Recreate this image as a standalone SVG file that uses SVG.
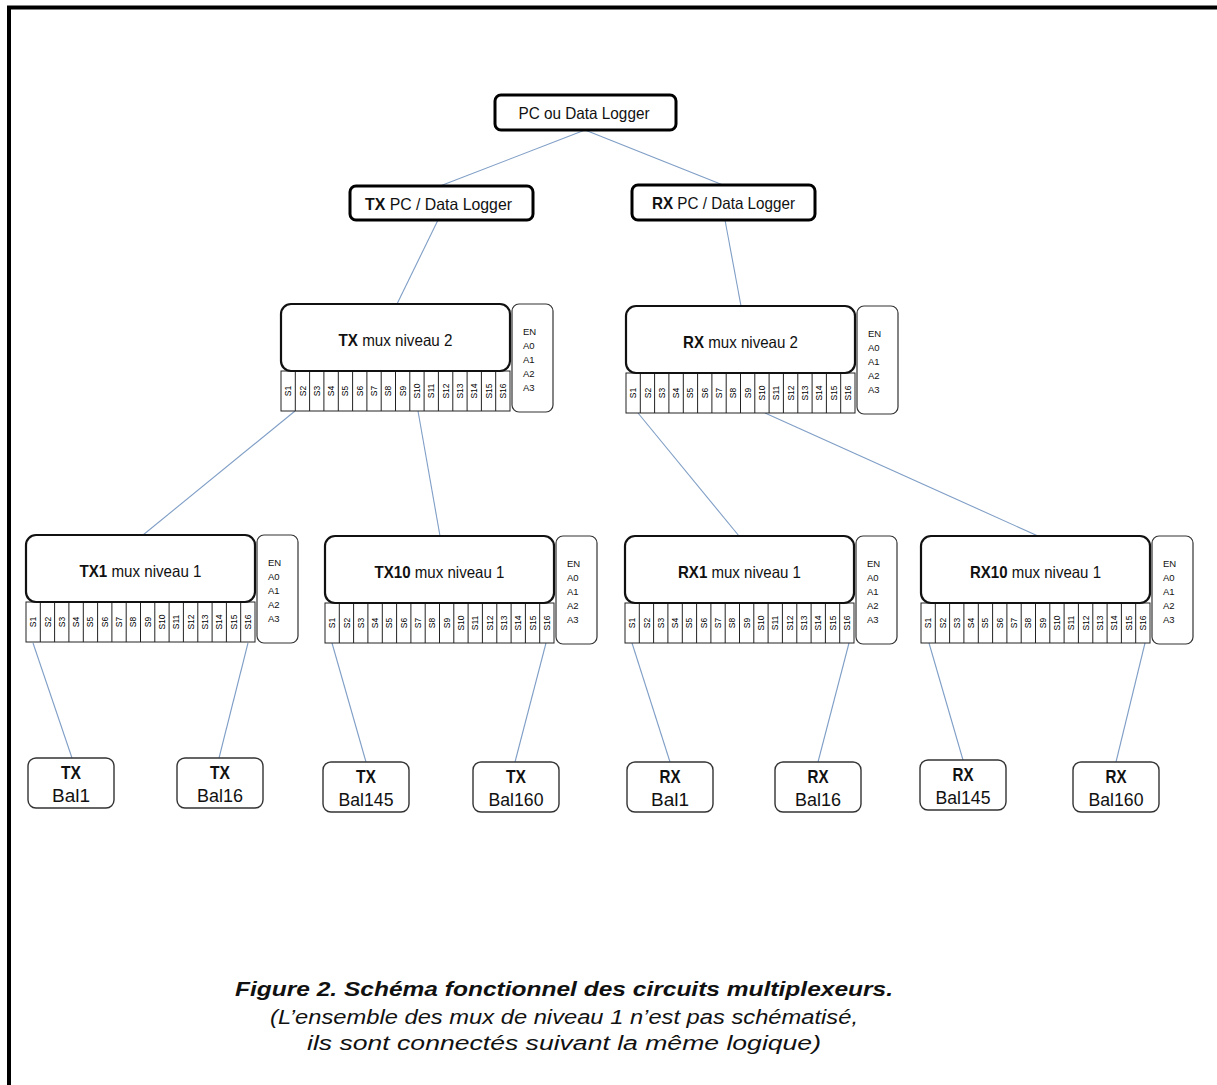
<svg xmlns="http://www.w3.org/2000/svg" width="1217" height="1085" viewBox="0 0 1217 1085">
<style>
text{font-family:"Liberation Sans Narrow","Liberation Sans",Arial,sans-serif;fill:#111}
.conn line{stroke:#7f9ec6;stroke-width:1.1}
.top{fill:#fff;stroke:#000;stroke-width:3}
.main{fill:#fff;stroke:#111;stroke-width:2.2}
.strip{fill:#fff;stroke:#222;stroke-width:1}
.side{fill:#fff;stroke:#333;stroke-width:1.2}
.bal{fill:#fff;stroke:#333;stroke-width:1.4}
.t15{font-size:16.5px}
.t16{font-size:17.5px}
.b{font-weight:bold}
.pin{font-size:9.5px}
.sl{font-size:8.5px}
.sl text{fill:#000}
.cap1{font-size:21px;font-weight:bold;font-style:italic}
.cap2{font-size:19.5px;font-style:italic}
</style>
<path d="M9,1085 V7.5 H1217" fill="none" stroke="#000" stroke-width="4"/>

<g id="connectors" class="conn">
<line x1="585" y1="130" x2="440" y2="186"/>
<line x1="585" y1="130" x2="723" y2="185"/>
<line x1="438" y1="220" x2="397" y2="304"/>
<line x1="725" y1="220" x2="741" y2="306"/>
<line x1="295" y1="411" x2="143" y2="535"/>
<line x1="418" y1="411" x2="440" y2="536"/>
<line x1="638" y1="413" x2="739" y2="536"/>
<line x1="765" y1="413" x2="1038" y2="536"/>
<line x1="33" y1="643" x2="72" y2="758"/>
<line x1="248" y1="643" x2="219" y2="758"/>
<line x1="332" y1="643" x2="366" y2="762"/>
<line x1="546" y1="643" x2="515" y2="762"/>
<line x1="632" y1="643" x2="670" y2="762"/>
<line x1="849" y1="643" x2="818" y2="762"/>
<line x1="929" y1="643" x2="963" y2="760"/>
<line x1="1145" y1="643" x2="1116" y2="762"/>
</g>

<g id="pc">
<rect class="top" x="495" y="95" width="181" height="35" rx="6"/>
<text class="t15" x="584" y="118.5" text-anchor="middle" textLength="131" lengthAdjust="spacingAndGlyphs">PC ou Data Logger</text>
</g>
<g id="tx-pc">
<rect class="top" x="350" y="186" width="183" height="34" rx="6"/>
<text class="t15" x="438.5" y="209.5" text-anchor="middle" textLength="147" lengthAdjust="spacingAndGlyphs"><tspan class="b">TX</tspan> PC / Data Logger</text>
</g>
<g id="rx-pc">
<rect class="top" x="632" y="185" width="183" height="35" rx="6"/>
<text class="t15" x="723.5" y="208.5" text-anchor="middle" textLength="143" lengthAdjust="spacingAndGlyphs"><tspan class="b">RX</tspan> PC / Data Logger</text>
</g>

<g id="tx-mux2" transform="translate(281,304)">
<rect class="strip" x="0" y="67" width="229" height="40"/>
<path class="strip" d="M14.3,67v40M28.6,67v40M42.9,67v40M57.3,67v40M71.6,67v40M85.9,67v40M100.2,67v40M114.5,67v40M128.8,67v40M143.1,67v40M157.4,67v40M171.8,67v40M186.1,67v40M200.4,67v40M214.7,67v40"/>
<rect class="main" x="0" y="0" width="229" height="67" rx="10"/>
<rect class="side" x="231" y="0" width="41" height="108" rx="7"/>
<text class="t15" x="114.5" y="42" text-anchor="middle" textLength="114" lengthAdjust="spacingAndGlyphs"><tspan class="b">TX</tspan> mux niveau 2</text>
<g class="pin"><text x="242" y="30.5">EN</text><text x="242" y="44.5">A0</text><text x="242" y="58.5">A1</text><text x="242" y="72.5">A2</text><text x="242" y="86.5">A3</text></g>
<g class="sl" text-anchor="middle">
<text transform="translate(7.2,87) rotate(-90)" dy="3">S1</text><text transform="translate(21.5,87) rotate(-90)" dy="3">S2</text><text transform="translate(35.8,87) rotate(-90)" dy="3">S3</text><text transform="translate(50.1,87) rotate(-90)" dy="3">S4</text><text transform="translate(64.4,87) rotate(-90)" dy="3">S5</text><text transform="translate(78.7,87) rotate(-90)" dy="3">S6</text><text transform="translate(93,87) rotate(-90)" dy="3">S7</text><text transform="translate(107.3,87) rotate(-90)" dy="3">S8</text><text transform="translate(121.6,87) rotate(-90)" dy="3">S9</text><text transform="translate(135.9,87) rotate(-90)" dy="3">S10</text><text transform="translate(150.3,87) rotate(-90)" dy="3">S11</text><text transform="translate(164.6,87) rotate(-90)" dy="3">S12</text><text transform="translate(178.9,87) rotate(-90)" dy="3">S13</text><text transform="translate(193.2,87) rotate(-90)" dy="3">S14</text><text transform="translate(207.5,87) rotate(-90)" dy="3">S15</text><text transform="translate(221.8,87) rotate(-90)" dy="3">S16</text>
</g>
</g>

<g id="rx-mux2" transform="translate(626,306)">
<rect class="strip" x="0" y="67" width="229" height="40"/>
<path class="strip" d="M14.3,67v40M28.6,67v40M42.9,67v40M57.3,67v40M71.6,67v40M85.9,67v40M100.2,67v40M114.5,67v40M128.8,67v40M143.1,67v40M157.4,67v40M171.8,67v40M186.1,67v40M200.4,67v40M214.7,67v40"/>
<rect class="main" x="0" y="0" width="229" height="67" rx="10"/>
<rect class="side" x="231" y="0" width="41" height="108" rx="7"/>
<text class="t15" x="114.5" y="42" text-anchor="middle" textLength="115" lengthAdjust="spacingAndGlyphs"><tspan class="b">RX</tspan> mux niveau 2</text>
<g class="pin"><text x="242" y="30.5">EN</text><text x="242" y="44.5">A0</text><text x="242" y="58.5">A1</text><text x="242" y="72.5">A2</text><text x="242" y="86.5">A3</text></g>
<g class="sl" text-anchor="middle">
<text transform="translate(7.2,87) rotate(-90)" dy="3">S1</text><text transform="translate(21.5,87) rotate(-90)" dy="3">S2</text><text transform="translate(35.8,87) rotate(-90)" dy="3">S3</text><text transform="translate(50.1,87) rotate(-90)" dy="3">S4</text><text transform="translate(64.4,87) rotate(-90)" dy="3">S5</text><text transform="translate(78.7,87) rotate(-90)" dy="3">S6</text><text transform="translate(93,87) rotate(-90)" dy="3">S7</text><text transform="translate(107.3,87) rotate(-90)" dy="3">S8</text><text transform="translate(121.6,87) rotate(-90)" dy="3">S9</text><text transform="translate(135.9,87) rotate(-90)" dy="3">S10</text><text transform="translate(150.3,87) rotate(-90)" dy="3">S11</text><text transform="translate(164.6,87) rotate(-90)" dy="3">S12</text><text transform="translate(178.9,87) rotate(-90)" dy="3">S13</text><text transform="translate(193.2,87) rotate(-90)" dy="3">S14</text><text transform="translate(207.5,87) rotate(-90)" dy="3">S15</text><text transform="translate(221.8,87) rotate(-90)" dy="3">S16</text>
</g>
</g>

<g id="tx1-mux1" transform="translate(26,535)">
<rect class="strip" x="0" y="67" width="229" height="40"/>
<path class="strip" d="M14.3,67v40M28.6,67v40M42.9,67v40M57.3,67v40M71.6,67v40M85.9,67v40M100.2,67v40M114.5,67v40M128.8,67v40M143.1,67v40M157.4,67v40M171.8,67v40M186.1,67v40M200.4,67v40M214.7,67v40"/>
<rect class="main" x="0" y="0" width="229" height="67" rx="10"/>
<rect class="side" x="231" y="0" width="41" height="108" rx="7"/>
<text class="t15" x="114.5" y="42" text-anchor="middle" textLength="122" lengthAdjust="spacingAndGlyphs"><tspan class="b">TX1</tspan> mux niveau 1</text>
<g class="pin"><text x="242" y="30.5">EN</text><text x="242" y="44.5">A0</text><text x="242" y="58.5">A1</text><text x="242" y="72.5">A2</text><text x="242" y="86.5">A3</text></g>
<g class="sl" text-anchor="middle">
<text transform="translate(7.2,87) rotate(-90)" dy="3">S1</text><text transform="translate(21.5,87) rotate(-90)" dy="3">S2</text><text transform="translate(35.8,87) rotate(-90)" dy="3">S3</text><text transform="translate(50.1,87) rotate(-90)" dy="3">S4</text><text transform="translate(64.4,87) rotate(-90)" dy="3">S5</text><text transform="translate(78.7,87) rotate(-90)" dy="3">S6</text><text transform="translate(93,87) rotate(-90)" dy="3">S7</text><text transform="translate(107.3,87) rotate(-90)" dy="3">S8</text><text transform="translate(121.6,87) rotate(-90)" dy="3">S9</text><text transform="translate(135.9,87) rotate(-90)" dy="3">S10</text><text transform="translate(150.3,87) rotate(-90)" dy="3">S11</text><text transform="translate(164.6,87) rotate(-90)" dy="3">S12</text><text transform="translate(178.9,87) rotate(-90)" dy="3">S13</text><text transform="translate(193.2,87) rotate(-90)" dy="3">S14</text><text transform="translate(207.5,87) rotate(-90)" dy="3">S15</text><text transform="translate(221.8,87) rotate(-90)" dy="3">S16</text>
</g>
</g>

<g id="tx10-mux1" transform="translate(325,536)">
<rect class="strip" x="0" y="67" width="229" height="40"/>
<path class="strip" d="M14.3,67v40M28.6,67v40M42.9,67v40M57.3,67v40M71.6,67v40M85.9,67v40M100.2,67v40M114.5,67v40M128.8,67v40M143.1,67v40M157.4,67v40M171.8,67v40M186.1,67v40M200.4,67v40M214.7,67v40"/>
<rect class="main" x="0" y="0" width="229" height="67" rx="10"/>
<rect class="side" x="231" y="0" width="41" height="108" rx="7"/>
<text class="t15" x="114.5" y="42" text-anchor="middle" textLength="130" lengthAdjust="spacingAndGlyphs"><tspan class="b">TX10</tspan> mux niveau 1</text>
<g class="pin"><text x="242" y="30.5">EN</text><text x="242" y="44.5">A0</text><text x="242" y="58.5">A1</text><text x="242" y="72.5">A2</text><text x="242" y="86.5">A3</text></g>
<g class="sl" text-anchor="middle">
<text transform="translate(7.2,87) rotate(-90)" dy="3">S1</text><text transform="translate(21.5,87) rotate(-90)" dy="3">S2</text><text transform="translate(35.8,87) rotate(-90)" dy="3">S3</text><text transform="translate(50.1,87) rotate(-90)" dy="3">S4</text><text transform="translate(64.4,87) rotate(-90)" dy="3">S5</text><text transform="translate(78.7,87) rotate(-90)" dy="3">S6</text><text transform="translate(93,87) rotate(-90)" dy="3">S7</text><text transform="translate(107.3,87) rotate(-90)" dy="3">S8</text><text transform="translate(121.6,87) rotate(-90)" dy="3">S9</text><text transform="translate(135.9,87) rotate(-90)" dy="3">S10</text><text transform="translate(150.3,87) rotate(-90)" dy="3">S11</text><text transform="translate(164.6,87) rotate(-90)" dy="3">S12</text><text transform="translate(178.9,87) rotate(-90)" dy="3">S13</text><text transform="translate(193.2,87) rotate(-90)" dy="3">S14</text><text transform="translate(207.5,87) rotate(-90)" dy="3">S15</text><text transform="translate(221.8,87) rotate(-90)" dy="3">S16</text>
</g>
</g>

<g id="rx1-mux1" transform="translate(625,536)">
<rect class="strip" x="0" y="67" width="229" height="40"/>
<path class="strip" d="M14.3,67v40M28.6,67v40M42.9,67v40M57.3,67v40M71.6,67v40M85.9,67v40M100.2,67v40M114.5,67v40M128.8,67v40M143.1,67v40M157.4,67v40M171.8,67v40M186.1,67v40M200.4,67v40M214.7,67v40"/>
<rect class="main" x="0" y="0" width="229" height="67" rx="10"/>
<rect class="side" x="231" y="0" width="41" height="108" rx="7"/>
<text class="t15" x="114.5" y="42" text-anchor="middle" textLength="123" lengthAdjust="spacingAndGlyphs"><tspan class="b">RX1</tspan> mux niveau 1</text>
<g class="pin"><text x="242" y="30.5">EN</text><text x="242" y="44.5">A0</text><text x="242" y="58.5">A1</text><text x="242" y="72.5">A2</text><text x="242" y="86.5">A3</text></g>
<g class="sl" text-anchor="middle">
<text transform="translate(7.2,87) rotate(-90)" dy="3">S1</text><text transform="translate(21.5,87) rotate(-90)" dy="3">S2</text><text transform="translate(35.8,87) rotate(-90)" dy="3">S3</text><text transform="translate(50.1,87) rotate(-90)" dy="3">S4</text><text transform="translate(64.4,87) rotate(-90)" dy="3">S5</text><text transform="translate(78.7,87) rotate(-90)" dy="3">S6</text><text transform="translate(93,87) rotate(-90)" dy="3">S7</text><text transform="translate(107.3,87) rotate(-90)" dy="3">S8</text><text transform="translate(121.6,87) rotate(-90)" dy="3">S9</text><text transform="translate(135.9,87) rotate(-90)" dy="3">S10</text><text transform="translate(150.3,87) rotate(-90)" dy="3">S11</text><text transform="translate(164.6,87) rotate(-90)" dy="3">S12</text><text transform="translate(178.9,87) rotate(-90)" dy="3">S13</text><text transform="translate(193.2,87) rotate(-90)" dy="3">S14</text><text transform="translate(207.5,87) rotate(-90)" dy="3">S15</text><text transform="translate(221.8,87) rotate(-90)" dy="3">S16</text>
</g>
</g>

<g id="rx10-mux1" transform="translate(921,536)">
<rect class="strip" x="0" y="67" width="229" height="40"/>
<path class="strip" d="M14.3,67v40M28.6,67v40M42.9,67v40M57.3,67v40M71.6,67v40M85.9,67v40M100.2,67v40M114.5,67v40M128.8,67v40M143.1,67v40M157.4,67v40M171.8,67v40M186.1,67v40M200.4,67v40M214.7,67v40"/>
<rect class="main" x="0" y="0" width="229" height="67" rx="10"/>
<rect class="side" x="231" y="0" width="41" height="108" rx="7"/>
<text class="t15" x="114.5" y="42" text-anchor="middle" textLength="131" lengthAdjust="spacingAndGlyphs"><tspan class="b">RX10</tspan> mux niveau 1</text>
<g class="pin"><text x="242" y="30.5">EN</text><text x="242" y="44.5">A0</text><text x="242" y="58.5">A1</text><text x="242" y="72.5">A2</text><text x="242" y="86.5">A3</text></g>
<g class="sl" text-anchor="middle">
<text transform="translate(7.2,87) rotate(-90)" dy="3">S1</text><text transform="translate(21.5,87) rotate(-90)" dy="3">S2</text><text transform="translate(35.8,87) rotate(-90)" dy="3">S3</text><text transform="translate(50.1,87) rotate(-90)" dy="3">S4</text><text transform="translate(64.4,87) rotate(-90)" dy="3">S5</text><text transform="translate(78.7,87) rotate(-90)" dy="3">S6</text><text transform="translate(93,87) rotate(-90)" dy="3">S7</text><text transform="translate(107.3,87) rotate(-90)" dy="3">S8</text><text transform="translate(121.6,87) rotate(-90)" dy="3">S9</text><text transform="translate(135.9,87) rotate(-90)" dy="3">S10</text><text transform="translate(150.3,87) rotate(-90)" dy="3">S11</text><text transform="translate(164.6,87) rotate(-90)" dy="3">S12</text><text transform="translate(178.9,87) rotate(-90)" dy="3">S13</text><text transform="translate(193.2,87) rotate(-90)" dy="3">S14</text><text transform="translate(207.5,87) rotate(-90)" dy="3">S15</text><text transform="translate(221.8,87) rotate(-90)" dy="3">S16</text>
</g>
</g>

<g id="tx-bal1" transform="translate(28,758)">
<rect class="bal" x="0" y="0" width="86" height="50" rx="8"/>
<text class="t16 b" x="43" y="21" text-anchor="middle" textLength="20" lengthAdjust="spacingAndGlyphs">TX</text>
<text class="t16" x="43" y="44" text-anchor="middle" textLength="38" lengthAdjust="spacingAndGlyphs">Bal1</text>
</g>
<g id="tx-bal16" transform="translate(177,758)">
<rect class="bal" x="0" y="0" width="86" height="50" rx="8"/>
<text class="t16 b" x="43" y="21" text-anchor="middle" textLength="20" lengthAdjust="spacingAndGlyphs">TX</text>
<text class="t16" x="43" y="44" text-anchor="middle" textLength="46" lengthAdjust="spacingAndGlyphs">Bal16</text>
</g>
<g id="tx-bal145" transform="translate(323,762)">
<rect class="bal" x="0" y="0" width="86" height="50" rx="8"/>
<text class="t16 b" x="43" y="21" text-anchor="middle" textLength="20" lengthAdjust="spacingAndGlyphs">TX</text>
<text class="t16" x="43" y="44" text-anchor="middle" textLength="55" lengthAdjust="spacingAndGlyphs">Bal145</text>
</g>
<g id="tx-bal160" transform="translate(473,762)">
<rect class="bal" x="0" y="0" width="86" height="50" rx="8"/>
<text class="t16 b" x="43" y="21" text-anchor="middle" textLength="20" lengthAdjust="spacingAndGlyphs">TX</text>
<text class="t16" x="43" y="44" text-anchor="middle" textLength="55" lengthAdjust="spacingAndGlyphs">Bal160</text>
</g>
<g id="rx-bal1" transform="translate(627,762)">
<rect class="bal" x="0" y="0" width="86" height="50" rx="8"/>
<text class="t16 b" x="43" y="21" text-anchor="middle" textLength="21" lengthAdjust="spacingAndGlyphs">RX</text>
<text class="t16" x="43" y="44" text-anchor="middle" textLength="38" lengthAdjust="spacingAndGlyphs">Bal1</text>
</g>
<g id="rx-bal16" transform="translate(775,762)">
<rect class="bal" x="0" y="0" width="86" height="50" rx="8"/>
<text class="t16 b" x="43" y="21" text-anchor="middle" textLength="21" lengthAdjust="spacingAndGlyphs">RX</text>
<text class="t16" x="43" y="44" text-anchor="middle" textLength="46" lengthAdjust="spacingAndGlyphs">Bal16</text>
</g>
<g id="rx-bal145" transform="translate(920,760)">
<rect class="bal" x="0" y="0" width="86" height="50" rx="8"/>
<text class="t16 b" x="43" y="21" text-anchor="middle" textLength="21" lengthAdjust="spacingAndGlyphs">RX</text>
<text class="t16" x="43" y="44" text-anchor="middle" textLength="55" lengthAdjust="spacingAndGlyphs">Bal145</text>
</g>
<g id="rx-bal160" transform="translate(1073,762)">
<rect class="bal" x="0" y="0" width="86" height="50" rx="8"/>
<text class="t16 b" x="43" y="21" text-anchor="middle" textLength="21" lengthAdjust="spacingAndGlyphs">RX</text>
<text class="t16" x="43" y="44" text-anchor="middle" textLength="55" lengthAdjust="spacingAndGlyphs">Bal160</text>
</g>

<g id="caption" text-anchor="middle">
<text class="cap1" x="564" y="996" textLength="658" lengthAdjust="spacingAndGlyphs">Figure 2. Schéma fonctionnel des circuits multiplexeurs.</text>
<text class="cap2" x="564" y="1024" textLength="588" lengthAdjust="spacingAndGlyphs">(L’ensemble des mux de niveau 1 n’est pas schématisé,</text>
<text class="cap2" x="564" y="1050" textLength="514" lengthAdjust="spacingAndGlyphs">ils sont connectés suivant la même logique)</text>
</g>
</svg>
